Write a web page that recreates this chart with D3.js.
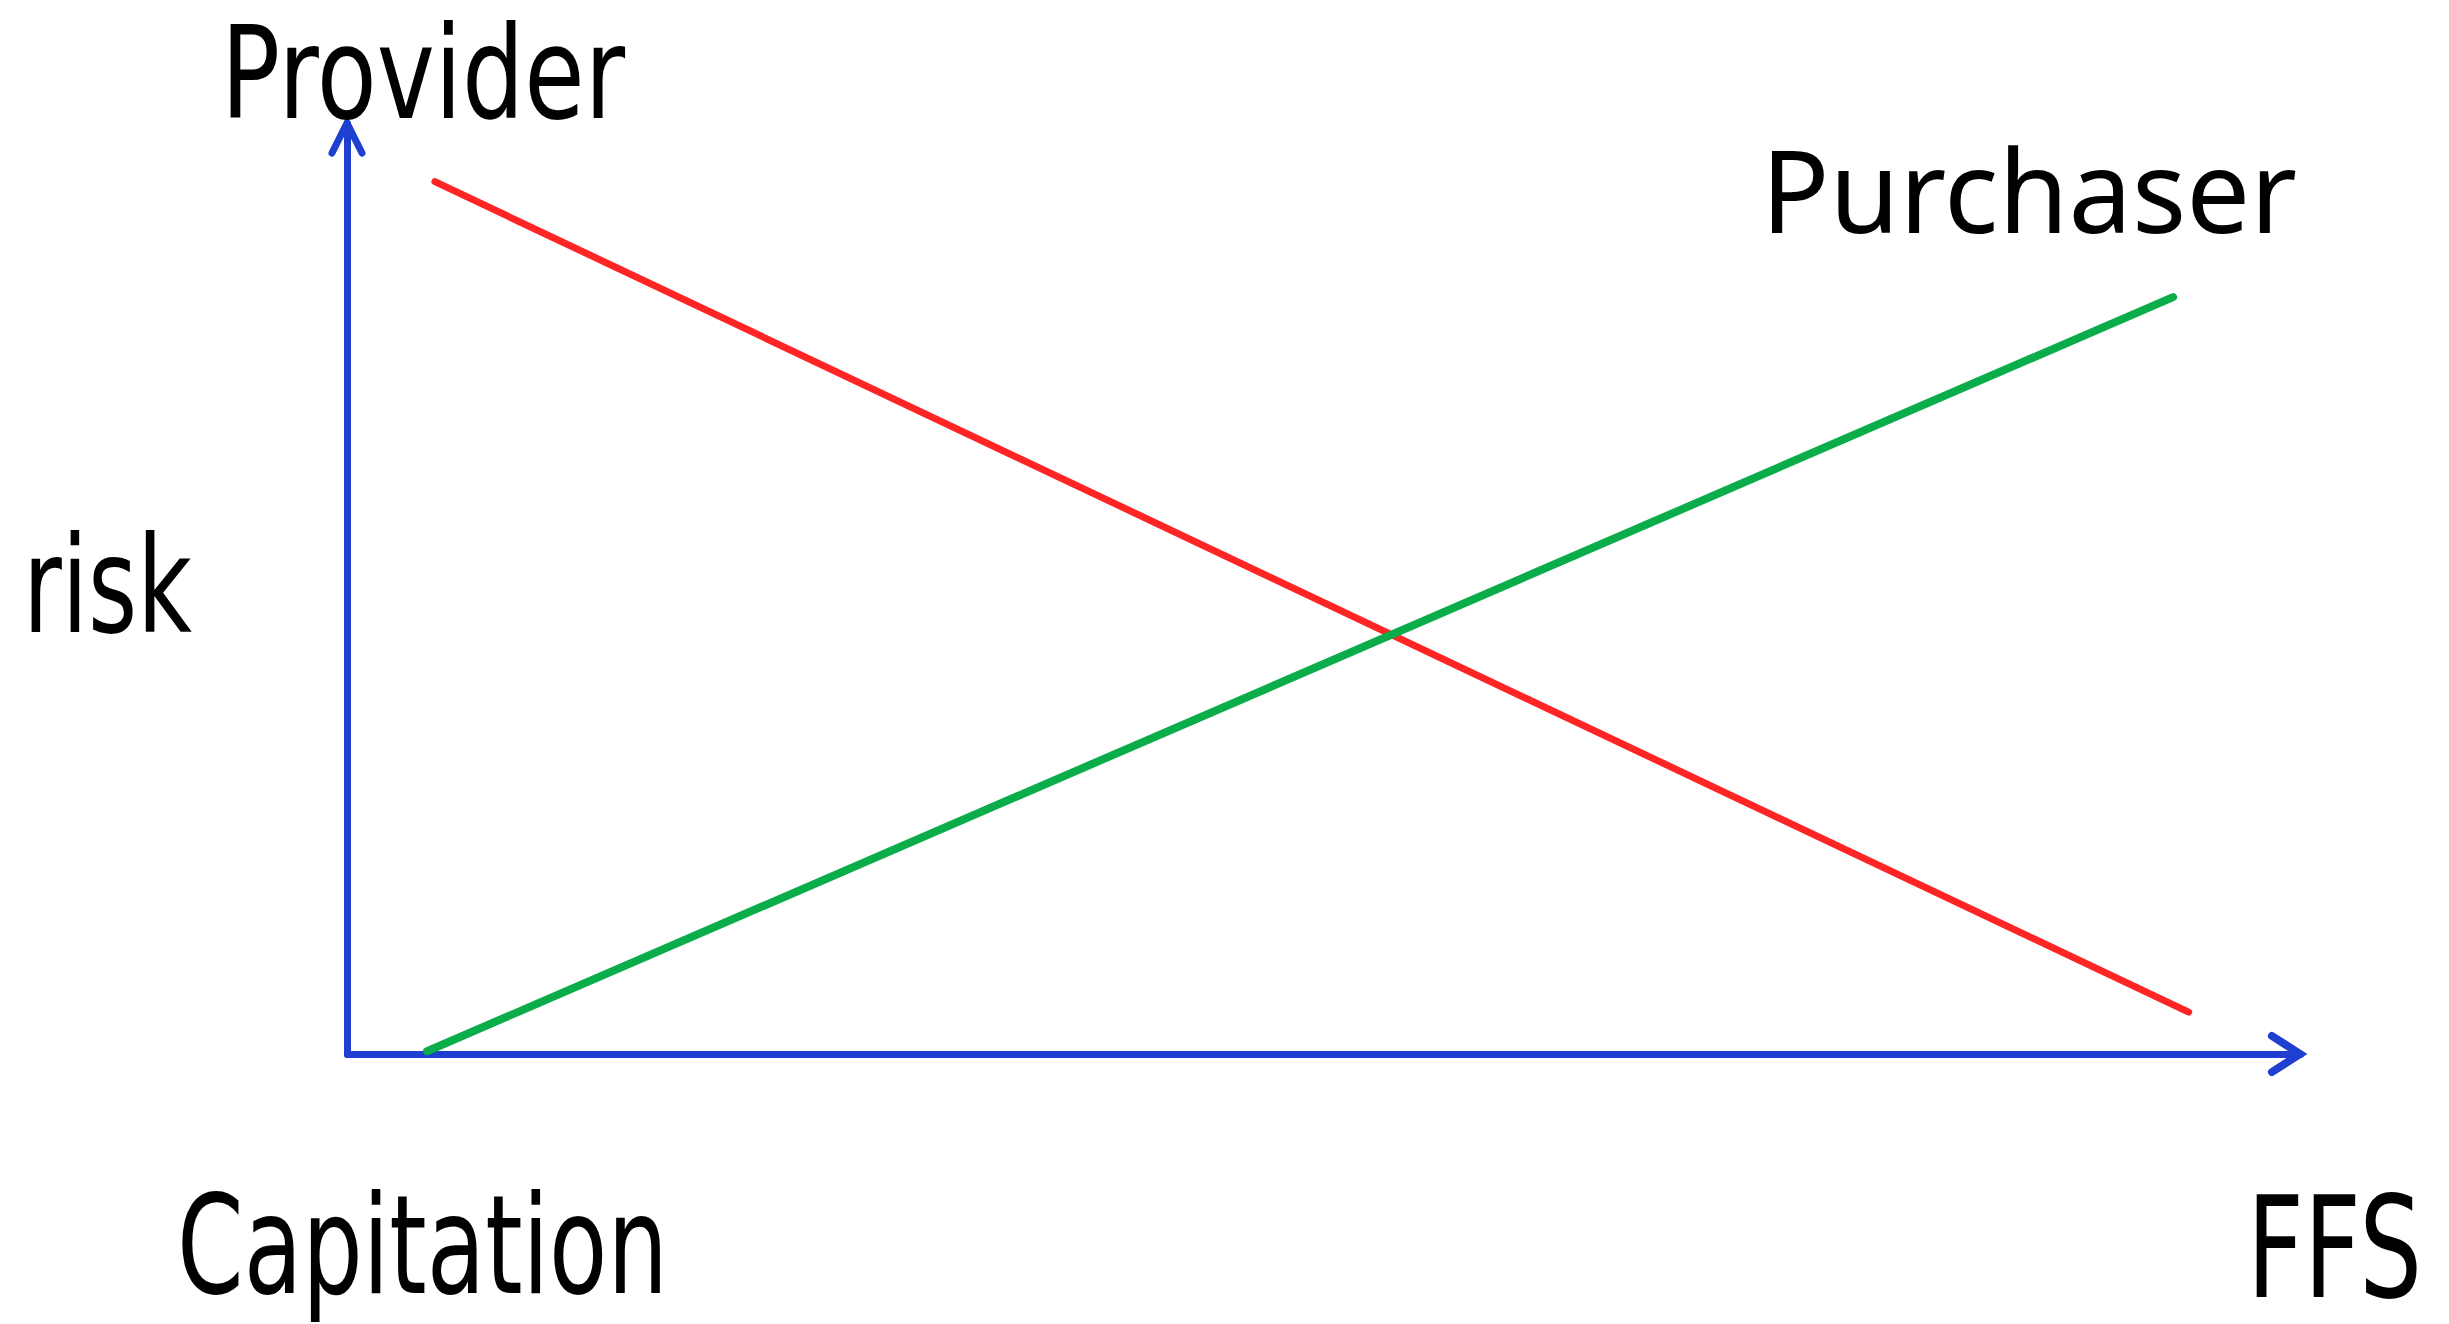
<!DOCTYPE html>
<html>
<head>
<meta charset="utf-8">
<script src="https://cdn.jsdelivr.net/npm/d3@7"></script>
<style>
  body { margin: 0; background: #fff; }
  .lbl { font-family: Tahoma, "DejaVu Sans", sans-serif; fill: #000; }
  .lbl2 { font-family: "Noto Sans", "Open Sans", sans-serif; fill: #000; }
</style>
</head>
<body>
<div id="chart"></div>
<script>
// data: x = payment type (0 = Capitation, 100 = FFS), y = risk
var providerX = [4.5, 94.3];
var providerY = [93.7, 4.5];
var purchaserX = [4.1, 93.5];
var purchaserY = [0.3, 81.3];
var xLabels = ["Capitation", "FFS"];
var seriesNames = ["Provider", "Purchaser"];
var yLabel = "risk";

var svgWidth = 2449;
var svgHeight = 1324;

var svg = d3.select("#chart")
  .append("svg")
  .attr("width", svgWidth)
  .attr("height", svgHeight);

var x = d3.scaleLinear().domain([0, 100]).range([347, 2300]);
var y = d3.scaleLinear().domain([0, 100]).range([1054, 123]);

var blue = "#1f3fd1";

// axes, no ticks - only the domain lines
svg.append("g")
  .attr("transform", `translate(0, ${y(0)})`)
  .call(d3.axisBottom(x).ticks(0).tickSizeOuter(0));
svg.append("g")
  .attr("transform", `translate(${x(0)}, 0)`)
  .call(d3.axisLeft(y).ticks(0).tickSizeOuter(0));

svg.selectAll(".domain")
  .attr("stroke", blue)
  .attr("stroke-width", 7)
  .attr("stroke-linecap", "round");

// arrow heads
svg.append("path")
  .attr("d", `M${x(100) - 28},${y(0) - 18}L${x(100)},${y(0)}L${x(100) - 28},${y(0) + 18}`)
  .attr("fill", "none")
  .attr("stroke", blue)
  .attr("stroke-width", 8)
  .attr("stroke-linecap", "round");

svg.append("path")
  .attr("d", `M${x(0) - 15},${y(100) + 30}L${x(0)},${y(100)}L${x(0) + 15},${y(100) + 30}`)
  .attr("fill", "none")
  .attr("stroke", blue)
  .attr("stroke-width", 7)
  .attr("stroke-linecap", "round");

// lines
var line = d3.line()
  .x(d => x(d[0]))
  .y(d => y(d[1]));

svg.append("path")
  .datum(d3.zip(providerX, providerY))
  .attr("d", line)
  .attr("fill", "none")
  .attr("stroke", "#ff2525")
  .attr("stroke-width", 7)
  .attr("stroke-linecap", "round");

svg.append("path")
  .datum(d3.zip(purchaserX, purchaserY))
  .attr("d", line)
  .attr("fill", "none")
  .attr("stroke", "#0aad4a")
  .attr("stroke-width", 8)
  .attr("stroke-linecap", "round");

// labels
svg.append("text")
  .attr("class", "lbl")
  .attr("x", 221).attr("y", 118)
  .attr("font-size", 128)
  .attr("textLength", 404).attr("lengthAdjust", "spacingAndGlyphs")
  .text(seriesNames[0]);

svg.append("text")
  .attr("class", "lbl2")
  .attr("x", 1761).attr("y", 233)
  .attr("font-size", 116)
  .attr("textLength", 536).attr("lengthAdjust", "spacingAndGlyphs")
  .text(seriesNames[1]);

svg.append("text")
  .attr("class", "lbl")
  .attr("x", 23).attr("y", 632)
  .attr("font-size", 134)
  .attr("textLength", 169).attr("lengthAdjust", "spacingAndGlyphs")
  .text(yLabel);

svg.append("text")
  .attr("class", "lbl")
  .attr("x", 177).attr("y", 1293)
  .attr("font-size", 137)
  .attr("textLength", 491).attr("lengthAdjust", "spacingAndGlyphs")
  .text(xLabels[0]);

svg.append("text")
  .attr("class", "lbl")
  .attr("x", 2247).attr("y", 1297)
  .attr("font-size", 140)
  .attr("textLength", 175).attr("lengthAdjust", "spacingAndGlyphs")
  .text(xLabels[1]);
</script>
</body>
</html>
